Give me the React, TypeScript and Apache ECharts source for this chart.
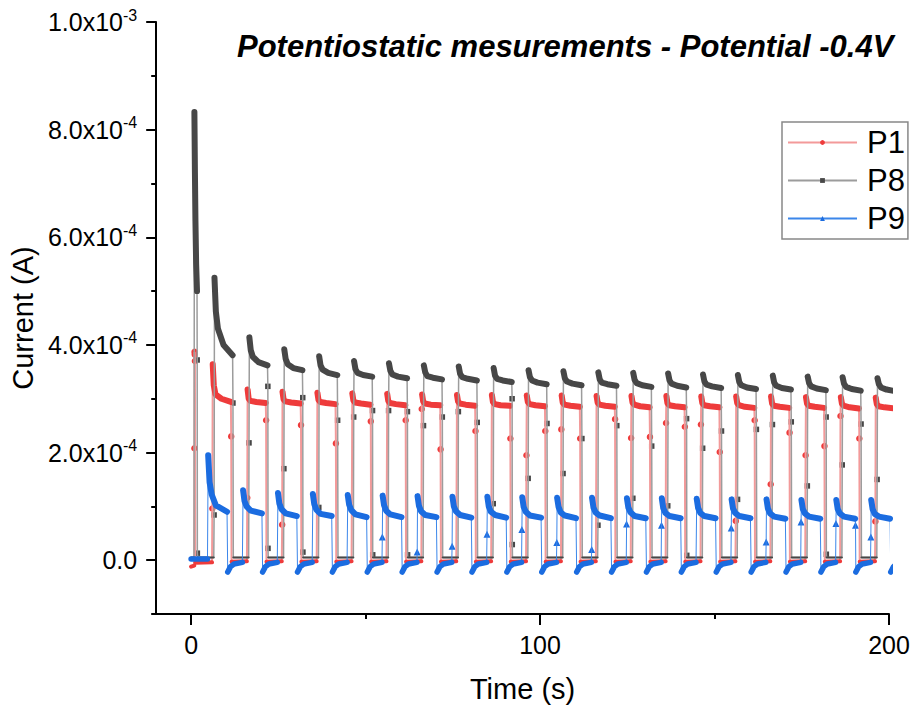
import React, { useEffect, useRef } from 'react';
import * as echarts from 'echarts';

// ---------- axes ----------
const X_MIN = -10;
const X_MAX = 200;
const X_MAJOR = [0, 100, 200];
const X_MINOR = [50, 150];
const Y_MIN = -1e-4;
const Y_MAX = 1e-3;
const Y_MAJOR = [0, 2e-4, 4e-4, 6e-4, 8e-4, 1e-3];
const Y_MINOR = [-1e-4, 1e-4, 3e-4, 5e-4, 7e-4, 9e-4];
const TITLE = 'Potentiostatic mesurements - Potential -0.4V';
const SERIES_NAMES = ['P1', 'P8', 'P9'];

// ---------- data (current in units of 1e-4 A, time in s) ----------
const CYCLE_START = [0, 10, 20, 30, 40, 50, 60, 70, 80, 90, 100, 110, 120, 130, 140, 150, 160, 170, 180, 190];

// P1 (red)
const P1_PRE_OFF: [number, number][] = [[0, -0.12], [0.9, -0.1]];
const P1_SPIKE: [number, number][] = [[0.95, 2.08], [1.0, 3.87], [1.05, 3.82], [1.1, 3.7]];
const P1_FIRST_OFF: [number, number][] = [[1.2, -0.05], [6.0, -0.04]];
const P1_RISE_T = 6.1;
const P1_ON_T = [6.2, 6.5, 7.0, 8.7, 11.4];
const P1_FALL_T = [11.5];
const P1_OFF_T = [11.6, 16.0];
const P1_OFF = [-0.03, -0.02];
const P1_ON = [
  [3.64, 3.25, 3.08, 3.0, 2.94],
  [3.17, 3.0, 2.96, 2.94, 2.92],
  [3.13, 2.99, 2.95, 2.93, 2.91],
  [3.11, 2.98, 2.94, 2.92, 2.9],
  [3.1, 2.97, 2.93, 2.91, 2.89],
  [3.09, 2.96, 2.92, 2.9, 2.88],
  [3.08, 2.95, 2.91, 2.89, 2.88],
  [3.07, 2.95, 2.91, 2.89, 2.87],
  [3.07, 2.94, 2.9, 2.88, 2.87],
  [3.06, 2.94, 2.9, 2.88, 2.86],
  [3.06, 2.93, 2.89, 2.87, 2.85],
  [3.05, 2.93, 2.89, 2.87, 2.85],
  [3.05, 2.93, 2.89, 2.86, 2.84],
  [3.05, 2.92, 2.88, 2.86, 2.84],
  [3.04, 2.92, 2.88, 2.86, 2.84],
  [3.04, 2.92, 2.88, 2.85, 2.83],
  [3.04, 2.91, 2.87, 2.85, 2.83],
  [3.03, 2.91, 2.87, 2.85, 2.83],
  [3.03, 2.91, 2.87, 2.84, 2.82],
  [3.02, 2.9, 2.86, 2.84, 2.82],
];
const P1_RISE = [0.96, 1.16, 0.66, null, null, null, 2.81, null, null, 1.95, 2.43, null, 2.27, 2.55, 2.52, 0.73, 1.41, 1.95, 2.68, 0.72];
const P1_FALL = [2.3, 2.6, 2.51, 2.17, 2.58, 2.6, 2.06, 2.4, 2.26, 2.4, 2.26, 2.62, 2.29, 2.48, 2.01, 2.6, 2.37, 2.12, 2.26, null];

// P8 (dark grey)
const P8_PRE_OFF: [number, number][] = [[0, 0.05], [0.85, 0.05]];
const P8_SPIKE: [number, number][] = [[0.95, 8.33], [1.0, 7.95], [1.1, 7.2], [1.25, 6.3], [1.45, 5.5], [1.7, 5.0]];
const P8_SPIKE_FALL: [number, number][] = [[1.75, 3.72], [1.8, 0.13]];
const P8_FIRST_OFF: [number, number][] = [[1.9, 0.05], [6.5, 0.05]];
const P8_RISE_T = 6.6;
const P8_ON_T = [6.7, 7.1, 7.7, 9.3, 11.9];
const P8_FALL_T = [12.0, 12.05];
const P8_OFF_T = [12.1, 16.5];
const P8_OFF = [0.05, 0.05];
const P8_ON = [
  [5.25, 4.62, 4.3, 4.0, 3.81],
  [4.14, 3.9, 3.78, 3.68, 3.62],
  [3.92, 3.74, 3.64, 3.57, 3.53],
  [3.79, 3.62, 3.54, 3.48, 3.44],
  [3.7, 3.55, 3.48, 3.44, 3.41],
  [3.66, 3.52, 3.45, 3.41, 3.38],
  [3.62, 3.49, 3.42, 3.39, 3.36],
  [3.6, 3.46, 3.4, 3.37, 3.34],
  [3.57, 3.43, 3.37, 3.34, 3.31],
  [3.53, 3.4, 3.34, 3.3, 3.27],
  [3.51, 3.38, 3.32, 3.28, 3.25],
  [3.49, 3.36, 3.3, 3.27, 3.24],
  [3.48, 3.35, 3.29, 3.25, 3.22],
  [3.47, 3.34, 3.28, 3.24, 3.21],
  [3.45, 3.32, 3.26, 3.23, 3.2],
  [3.44, 3.31, 3.25, 3.21, 3.18],
  [3.43, 3.3, 3.24, 3.2, 3.17],
  [3.41, 3.29, 3.23, 3.19, 3.16],
  [3.4, 3.28, 3.22, 3.18, 3.15],
  [3.38, 3.27, 3.21, 3.17, 3.14],
];
const P8_RISE = [0.84, 2.18, 1.7, 0.98, 2.66, 2.78, 2.5, 2.76, 1.05, 1.52, 1.61, 0.65, 1.15, 1.01, 2.08, 1.13, 2.52, 1.38, 1.77, 1.5];
const P8_FALL = [2.92, 3.23, 3.02, 2.6, 2.78, 2.76, 2.66, 2.56, 3.0, 2.54, 2.26, 2.5, 2.12, 2.63, 2.4, 2.43, 2.57, 2.66, 2.53, null];
const P8_FALL2 = [null, 0.22, 0.15, null, 0.1, 0.1, null, null, 0.29, null, null, null, null, 0.09, null, null, null, 0.11, null, null];

// P9 (blue)
const P9_PRE_OFF: [number, number][] = [[0, 0.02], [4.7, 0.02]];
const P9_RISE_T = 4.8;
const P9_ON_T = [4.9, 5.3, 5.9, 7.1, 10.3];
const P9_FALL_T = [10.4];
const P9_OFF_T = [10.5, 11.3, 12.3, 14.7];
const P9_OFF = [-0.22, -0.12, -0.07, -0.04];
const P9_ON = [
  [1.95, 1.45, 1.22, 1.02, 0.9],
  [1.3, 1.1, 1.0, 0.92, 0.87],
  [1.25, 1.05, 0.95, 0.87, 0.82],
  [1.23, 1.04, 0.94, 0.86, 0.82],
  [1.21, 1.03, 0.93, 0.85, 0.8],
  [1.2, 1.02, 0.92, 0.85, 0.8],
  [1.19, 1.01, 0.91, 0.84, 0.8],
  [1.18, 1.0, 0.91, 0.84, 0.79],
  [1.18, 1.0, 0.9, 0.84, 0.79],
  [1.17, 0.99, 0.9, 0.83, 0.79],
  [1.16, 0.99, 0.89, 0.83, 0.78],
  [1.16, 0.98, 0.89, 0.83, 0.78],
  [1.15, 0.98, 0.89, 0.82, 0.78],
  [1.15, 0.97, 0.88, 0.82, 0.78],
  [1.14, 0.97, 0.88, 0.82, 0.78],
  [1.13, 0.96, 0.88, 0.82, 0.78],
  [1.13, 0.96, 0.87, 0.81, 0.77],
  [1.12, 0.95, 0.87, 0.81, 0.77],
  [1.12, 0.95, 0.87, 0.81, 0.77],
  [1.12, 0.95, 0.86, 0.81, 0.77],
];
const P9_RISE = [null, null, null, null, null, 0.43, 0.15, 0.26, 0.48, 0.57, 0.33, 0.2, 0.67, 0.65, null, 0.6, 0.34, 0.71, 0.68, 0.43];
const P9_FALL = [null, null, null, null, null, null, null, null, null, null, null, null, null, null, null, null, null, null, 0.65, null];

// ---------- building the traces ----------
type Pt = [number, number];
type Kind = 'on' | 'off' | 'pt';
type Seg = { kind: Kind; pts: Pt[] };

function cycleSegs(
  riseT: number, rise: (number | null)[],
  onT: number[], on: number[][],
  fallT: number[], falls: (number | null)[][],
  offT: number[], off: number[],
): Seg[] {
  const segs: Seg[] = [];
  CYCLE_START.forEach((c, k) => {
    const r = rise[k];
    if (r != null) segs.push({ kind: 'pt', pts: [[c + riseT, r]] });
    segs.push({ kind: 'on', pts: onT.map((o, i) => [c + o, on[k][i]] as Pt) });
    const fp: Pt[] = [];
    falls.forEach((arr, j) => {
      const f = arr[k];
      if (f != null) fp.push([c + fallT[j], f]);
    });
    if (fp.length) segs.push({ kind: 'pt', pts: fp });
    segs.push({ kind: 'off', pts: offT.map((o, i) => [c + o, off[i]] as Pt) });
  });
  return segs;
}

const SEGS_P1: Seg[] = [
  { kind: 'off', pts: P1_PRE_OFF },
  { kind: 'pt', pts: P1_SPIKE },
  { kind: 'off', pts: P1_FIRST_OFF },
  ...cycleSegs(P1_RISE_T, P1_RISE, P1_ON_T, P1_ON, P1_FALL_T, [P1_FALL], P1_OFF_T, P1_OFF),
];
const SEGS_P8: Seg[] = [
  { kind: 'off', pts: P8_PRE_OFF },
  { kind: 'on', pts: P8_SPIKE },
  { kind: 'pt', pts: P8_SPIKE_FALL },
  { kind: 'off', pts: P8_FIRST_OFF },
  ...cycleSegs(P8_RISE_T, P8_RISE, P8_ON_T, P8_ON, P8_FALL_T, [P8_FALL, P8_FALL2], P8_OFF_T, P8_OFF),
];
const SEGS_P9: Seg[] = [
  { kind: 'off', pts: P9_PRE_OFF },
  ...cycleSegs(P9_RISE_T, P9_RISE, P9_ON_T, P9_ON, P9_FALL_T, [P9_FALL], P9_OFF_T, P9_OFF),
];

const SCALE = 1e-4;
const toA = (p: Pt) => [p[0], p[1] * SCALE];

function thinData(segs: Seg[]) {
  return segs.flatMap((s) => s.pts.map(toA));
}
function bandData(segs: Seg[], kind: Kind) {
  const out: any[] = [];
  segs.filter((s) => s.kind === kind).forEach((s) => {
    s.pts.forEach((p) => out.push(toA(p)));
    out.push([s.pts[s.pts.length - 1][0], '-']);
  });
  return out;
}
function ptData(segs: Seg[]) {
  return segs.filter((s) => s.kind === 'pt').flatMap((s) => s.pts.map(toA));
}

const FONT = "'Liberation Sans', Arial, Helvetica, sans-serif";

function makeSeries(
  name: string, segs: Seg[], symbol: string, symSize: number,
  markColor: string, lineColor: string, lineW: number, onW: number, offW: number,
) {
  return [
    {
      name, type: 'line', data: thinData(segs), symbol, showSymbol: false,
      itemStyle: { color: markColor }, lineStyle: { color: lineColor, width: lineW },
      emphasis: { disabled: true }, silent: true, connectNulls: false,
    },
    {
      name: name + '_off', type: 'line', data: bandData(segs, 'off'), showSymbol: false, symbol: 'none',
      lineStyle: { color: markColor, width: offW, cap: 'round', join: 'round' },
      emphasis: { disabled: true }, silent: true, connectNulls: false,
    },
    {
      name: name + '_on', type: 'line', data: bandData(segs, 'on'), showSymbol: false, symbol: 'none',
      lineStyle: { color: markColor, width: onW, cap: 'round', join: 'round' },
      emphasis: { disabled: true }, silent: true, connectNulls: false,
    },
    {
      name: name + '_pts', type: 'scatter', data: ptData(segs), symbol, symbolSize: symSize,
      itemStyle: { color: markColor, opacity: 1 }, emphasis: { disabled: true }, silent: true,
    },
  ];
}

const yLabel = (v: number) => {
  if (Math.abs(v) < 1e-12) return '{m|0.0}';
  const e = Math.floor(Math.log10(Math.abs(v)) + 1e-9);
  const m = (v / Math.pow(10, e)).toFixed(1);
  return `{m|${m}x10}{s|${e}}`;
};

export default function App() {
  const ref = useRef<HTMLDivElement>(null);
  useEffect(() => {
    if (!ref.current) return;
    const chart = echarts.init(ref.current, undefined, { renderer: 'svg' });
    const axisLine = { onZero: false, lineStyle: { color: '#000', width: 2 } };
    const tickStyle = { color: '#000', width: 2 };
    chart.setOption({
      animation: false,
      backgroundColor: '#ffffff',
      textStyle: { fontFamily: FONT },
      title: {
        text: TITLE, left: 237, top: 31, padding: 0,
        textStyle: { fontSize: 31, fontWeight: 'bold', fontStyle: 'italic', color: '#000', fontFamily: FONT },
      },
      legend: {
        data: SERIES_NAMES, orient: 'vertical', left: 782, top: 122,
        itemWidth: 69, itemHeight: 6, itemGap: 7, padding: [5, 3, 5, 5],
        borderColor: '#888', borderWidth: 1.5, selectedMode: false,
        textStyle: { fontSize: 31, color: '#000', fontFamily: FONT, padding: [0, 0, 0, 5] },
      },
      grid: { left: 154, right: 29, top: 22, bottom: 102, containLabel: false },
      xAxis: [
        {
          type: 'value', min: X_MIN, max: X_MAX, position: 'bottom',
          name: 'Time (s)', nameLocation: 'middle', nameGap: 60,
          nameTextStyle: { fontSize: 29, color: '#000', fontFamily: FONT },
          axisLine, splitLine: { show: false },
          axisTick: { customValues: X_MAJOR, length: 11, lineStyle: tickStyle },
          axisLabel: { customValues: X_MAJOR, fontSize: 25, color: '#000', margin: 18, fontFamily: FONT },
        },
        {
          type: 'value', min: X_MIN, max: X_MAX, position: 'bottom',
          axisLine: { show: false, onZero: false }, splitLine: { show: false },
          axisTick: { customValues: X_MINOR, length: 5, lineStyle: tickStyle },
          axisLabel: { show: false },
        },
      ],
      yAxis: [
        {
          type: 'value', min: Y_MIN, max: Y_MAX, position: 'left',
          name: 'Current (A)', nameLocation: 'middle', nameGap: 115,
          nameTextStyle: { fontSize: 29, color: '#000', fontFamily: FONT },
          axisLine, splitLine: { show: false },
          axisTick: { customValues: Y_MAJOR, length: 10, lineStyle: tickStyle },
          axisLabel: {
            customValues: Y_MAJOR, margin: 19, formatter: yLabel,
            rich: {
              m: { fontSize: 25, lineHeight: 30, color: '#000', fontFamily: FONT },
              s: { fontSize: 16, lineHeight: 16, color: '#000', fontFamily: FONT, verticalAlign: 'top' },
            },
          },
        },
        {
          type: 'value', min: Y_MIN, max: Y_MAX, position: 'left',
          axisLine: { show: false, onZero: false }, splitLine: { show: false },
          axisTick: { customValues: Y_MINOR, length: 5, lineStyle: tickStyle },
          axisLabel: { show: false },
        },
      ],
      series: [
        ...makeSeries('P1', SEGS_P1, 'circle', 6.5, '#ee3b3b', '#f39a9a', 2, 6, 4),
        ...makeSeries('P8', SEGS_P8, 'rect', 5.5, '#474747', '#9c9c9c', 1.5, 6, 2),
        ...makeSeries('P9', SEGS_P9, 'triangle', 7, '#1b6ce0', '#3b86ea', 1, 6, 5.5),
      ],
    });
    return () => chart.dispose();
  }, []);
  return <div ref={ref} style={{ position: 'absolute', left: 0, top: 0, width: 918, height: 716 }} />;
}
